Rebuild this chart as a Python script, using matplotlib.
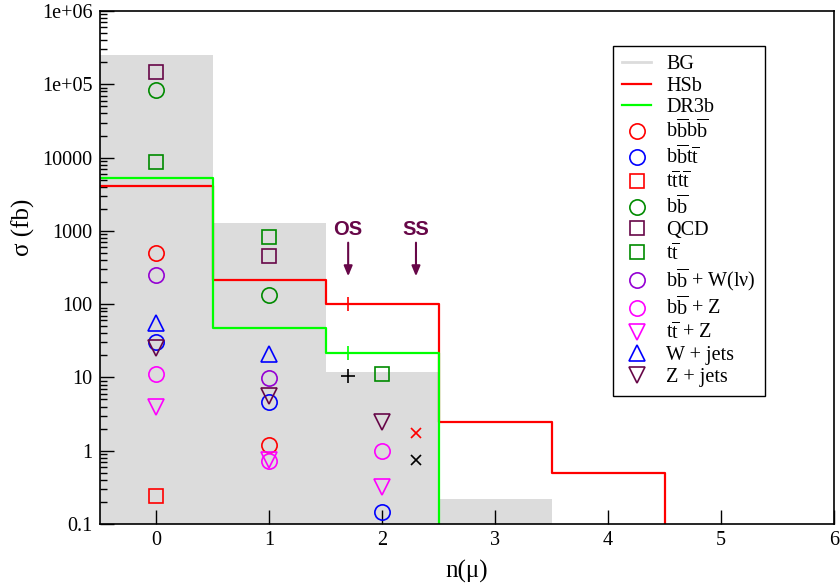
import numpy as np
import matplotlib
matplotlib.use("Agg")
import matplotlib.pyplot as plt
from matplotlib.lines import Line2D
from matplotlib.ticker import FixedLocator, FixedFormatter, LogLocator, NullFormatter

plt.rcParams["font.family"] = ["Liberation Serif", "DejaVu Serif"]
plt.rcParams["mathtext.fontset"] = "custom"
plt.rcParams["mathtext.rm"] = "Liberation Serif"
plt.rcParams["mathtext.it"] = "Liberation Serif:italic"

# ---- data -------------------------------------------------------------
bin_edges = [-0.5, 0.5, 1.5, 2.5, 3.5, 4.5]
bg_xsec = [2.5e5, 1300, 12, 0.22]          # total background per n(mu) bin
hsb_xsec = [4100, 215, 100, 2.5, 0.5]      # HSb signal
dr3b_xsec = [5300, 47, 21.5]               # DR3b signal

bbbb_n, bbbb_xsec = [0, 1], [500, 1.2]
bbtt_n, bbtt_xsec = [0, 1, 2], [30, 4.6, 0.144]
tttt_n, tttt_xsec = [0], [0.24]
bb_n, bb_xsec = [0, 1], [8.4e4, 134]
qcd_n, qcd_xsec = [0, 1], [1.47e5, 450]
tt_n, tt_xsec = [0, 1, 2], [8700, 820, 11]
bbw_n, bbw_xsec = [0, 1], [250, 9.8]
bbz_n, bbz_xsec = [0, 1, 2], [11, 0.72, 1.0]
ttz_n, ttz_xsec = [0, 1, 2], [4.0, 0.74, 0.32]
wjets_n, wjets_xsec = [0, 1], [55, 21]
zjets_n, zjets_xsec = [0, 1, 2], [25, 5.5, 2.5]

# opposite-sign / same-sign dimuon selections
os_n = 1.7
os_hsb, os_dr3b, os_bg = 100, 21.5, 10.6
ss_n = 2.3
ss_hsb, ss_bg = 1.74, 0.75

y_ticks = [0.1, 1, 10, 100, 1000, 10000, 1e5, 1e6]
y_tick_labels = ["0.1", "1", "10", "100", "1000", "10000", "1e+05", "1e+06"]
x_ticks = [0, 1, 2, 3, 4, 5, 6]

# ---- styles -----------------------------------------------------------
RED, BLUE, GREEN4 = "#ff0000", "#0000ff", "#008b00"
MAROON, VIOLET, MAGENTA = "#670748", "#9400d3", "#ff00ff"
LIME, GREY = "#00ff00", "#dcdcdc"
YMIN, YMAX = 0.1, 1e6

fig = plt.figure(figsize=(8.4, 5.83), dpi=100)
ax = fig.add_axes([0.1185, 0.1012, 0.8745, 0.8799])
ax.set_yscale("log")
ax.set_xlim(-0.5, 6)
ax.set_ylim(YMIN, YMAX)

# background histogram
ax.stairs(bg_xsec, bin_edges[:len(bg_xsec) + 1], fill=True, color=GREY,
          baseline=1e-3, zorder=1)


def step_outline(values):
    """Histogram outline that drops to the bottom after the last bin."""
    edges = np.asarray(bin_edges[:len(values) + 1])
    xs = np.repeat(edges, 2)[1:-1]
    ys = np.repeat(values, 2)
    xs = np.append(xs, edges[-1])
    ys = np.append(ys, 1e-3)
    return xs, ys


for vals, col in [(hsb_xsec, RED), (dr3b_xsec, LIME)]:
    xs, ys = step_outline(vals)
    ax.plot(xs, ys, color=col, lw=1.6, zorder=3)

BB = r"b$\overline{\mathrm{b}}$"
TT = r"t$\overline{\mathrm{t}}$"
processes = [
    (bbbb_n, bbbb_xsec, "o", RED, 11, BB + BB),
    (bbtt_n, bbtt_xsec, "o", BLUE, 11, BB + TT),
    (tttt_n, tttt_xsec, "s", RED, 9.5, TT + TT),
    (bb_n, bb_xsec, "o", GREEN4, 11, BB),
    (qcd_n, qcd_xsec, "s", MAROON, 9.5, "QCD"),
    (tt_n, tt_xsec, "s", GREEN4, 9.5, TT),
    (bbw_n, bbw_xsec, "o", VIOLET, 11, BB + " + W(lν)"),
    (bbz_n, bbz_xsec, "o", MAGENTA, 11, BB + " + Z"),
    (ttz_n, ttz_xsec, "v", MAGENTA, 11, TT + " + Z"),
    (wjets_n, wjets_xsec, "^", BLUE, 11, "W + jets"),
    (zjets_n, zjets_xsec, "v", MAROON, 11, "Z + jets"),
]

handles = [
    Line2D([], [], color=GREY, lw=2, label="BG"),
    Line2D([], [], color=RED, lw=1.6, label="HSb"),
    Line2D([], [], color=LIME, lw=1.6, label="DR3b"),
]
for n, s, mk, col, ms, lab in processes:
    ax.plot(n, s, ls="none", marker=mk, ms=ms, mfc="none", mec=col,
            mew=1.2, zorder=4)
    handles.append(Line2D([], [], ls="none", marker=mk, ms=ms, mfc="none",
                          mec=col, mew=1.2, label=lab))

# OS / SS points
ax.plot([os_n], [os_hsb], ls="none", marker="+", ms=10, mew=1.2, color=RED, zorder=5)
ax.plot([os_n], [os_dr3b], ls="none", marker="+", ms=10, mew=1.2, color=LIME, zorder=5)
ax.plot([os_n], [os_bg], ls="none", marker="+", ms=10, mew=1.2, color="black", zorder=5)
ax.plot([ss_n], [ss_hsb], ls="none", marker="x", ms=7.5, mew=1.2, color=RED, zorder=5)
ax.plot([ss_n], [ss_bg], ls="none", marker="x", ms=7.5, mew=1.2, color="black", zorder=5)

for xn, lab in [(os_n, "OS"), (ss_n, "SS")]:
    ax.text(xn, 1030, lab, ha="center", va="center", color=MAROON,
            family=["Liberation Sans", "DejaVu Sans"], fontsize=14.5,
            fontweight="bold", zorder=6)
    ax.annotate("", xy=(xn, 240), xytext=(xn, 690),
                arrowprops=dict(arrowstyle="-|>,head_length=0.6,head_width=0.25",
                                color=MAROON, lw=1.5, shrinkA=0, shrinkB=0),
                zorder=6)

# axes, ticks
ax.yaxis.set_major_locator(FixedLocator(y_ticks))
ax.yaxis.set_major_formatter(FixedFormatter(y_tick_labels))
ax.yaxis.set_minor_locator(LogLocator(base=10, subs=np.arange(2, 10), numticks=20))
ax.yaxis.set_minor_formatter(NullFormatter())
ax.set_xticks(x_ticks)
ax.set_xticklabels([str(t) for t in x_ticks])
ax.tick_params(axis="both", which="major", direction="in", length=10, width=1,
               labelsize=14.5, top=False, right=False)
ax.tick_params(axis="y", which="major", pad=5)
ax.tick_params(axis="x", which="major", pad=5)
ax.tick_params(axis="y", which="minor", direction="in", length=5, width=1,
               right=False)
ax.tick_params(axis="x", which="minor", bottom=False, top=False)
for sp in ax.spines.values():
    sp.set_linewidth(1.2)
    sp.set_zorder(7)

ax.set_ylabel("σ (fb)", fontsize=18)
ax.yaxis.set_label_coords(-0.104, 0.579)
ax.set_xlabel("n(μ)", fontsize=18)
ax.xaxis.set_label_coords(0.5, -0.0916)
ax.xaxis.label.set_va("center")
ax.yaxis.label.set_va("center")

leg = ax.legend(handles=handles, loc="upper right",
                bbox_to_anchor=(0.906, 0.932), fontsize=14.5, frameon=True,
                fancybox=False, edgecolor="black", framealpha=1,
                handlelength=1.45, handletextpad=0.75, labelspacing=0.12,
                borderpad=0.45, borderaxespad=0)
leg.get_frame().set_linewidth(1.0)
leg.set_zorder(8)

fig.savefig("out.png", dpi=100)
